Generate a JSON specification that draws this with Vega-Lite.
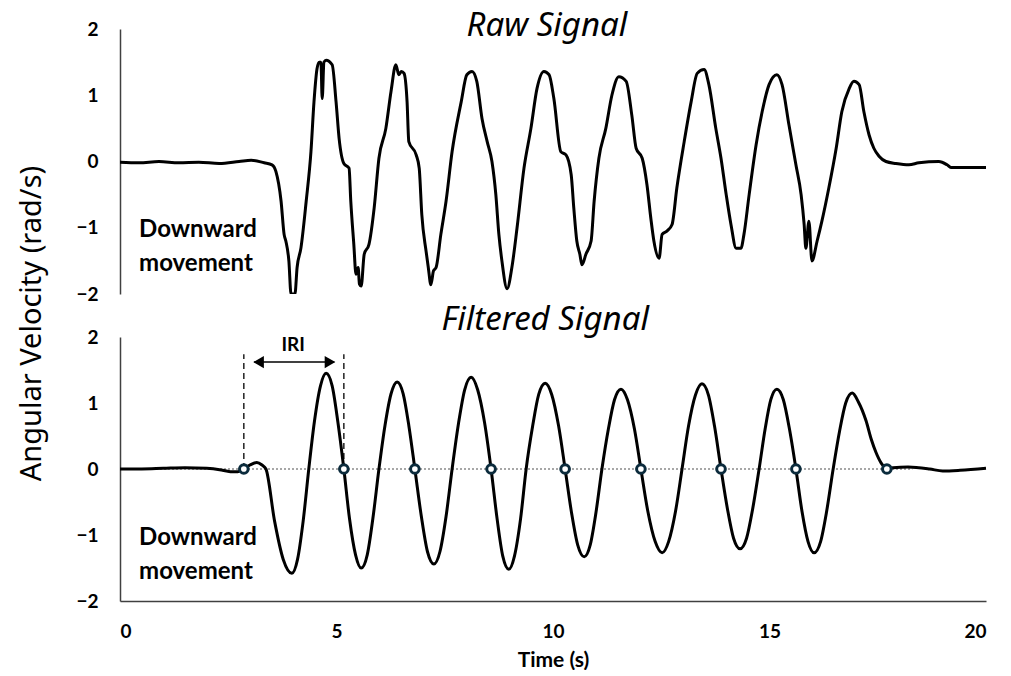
{
  "$schema": "https://vega.github.io/schema/vega-lite/v6.json",
  "padding": {"left": 17, "top": 10, "right": 3, "bottom": 0},
  "spacing": 43,
  "bounds": "flush",
  "config": {
    "view": {"stroke": null},
    "axis": {"grid": false, "ticks": false, "domainColor": "#404040", "domainWidth": 1.5, "labelFont": "Lato", "labelFontWeight": "bold", "labelFontSize": 19, "labelColor": "#000000", "labelPadding": 22, "titleColor": "#000000", "format": "d"}
  },
  "datasets": {
    "one": [{}],
    "raw": [
      {"t":0,"v":-0.01},{"t":0.44,"v":-0.02},{"t":0.9,"v":0.0},{"t":1.36,"v":-0.02},{"t":1.82,"v":-0.01},{"t":2.29,"v":-0.03},{"t":2.75,"v":0.0},{"t":3.03,"v":0.02},{"t":3.33,"v":-0.02},{"t":3.51,"v":-0.05},{"t":3.6,"v":-0.15},{"t":3.72,"v":-0.6},{"t":3.79,"v":-1.1},{"t":3.83,"v":-1.2},{"t":3.9,"v":-1.5},{"t":3.95,"v":-2.0},{"t":4.0,"v":-2.0},{"t":4.04,"v":-2.0},{"t":4.09,"v":-1.6},{"t":4.18,"v":-1.3},{"t":4.3,"v":-0.6},{"t":4.41,"v":0.15},{"t":4.48,"v":0.9},{"t":4.55,"v":1.4},{"t":4.6,"v":1.5},{"t":4.64,"v":1.5},{"t":4.67,"v":0.95},{"t":4.71,"v":1.5},{"t":4.76,"v":1.53},{"t":4.9,"v":1.46},{"t":4.99,"v":0.9},{"t":5.06,"v":0.35},{"t":5.17,"v":-0.03},{"t":5.29,"v":-0.1},{"t":5.33,"v":-0.6},{"t":5.4,"v":-1.25},{"t":5.45,"v":-1.7},{"t":5.5,"v":-1.6},{"t":5.53,"v":-1.85},{"t":5.57,"v":-1.88},{"t":5.64,"v":-1.4},{"t":5.75,"v":-1.25},{"t":5.87,"v":-0.7},{"t":5.98,"v":0.05},{"t":6.14,"v":0.5},{"t":6.26,"v":1.06},{"t":6.37,"v":1.46},{"t":6.44,"v":1.31},{"t":6.5,"v":1.36},{"t":6.56,"v":1.33},{"t":6.63,"v":0.9},{"t":6.67,"v":0.3},{"t":6.84,"v":0.1},{"t":6.91,"v":-0.1},{"t":6.97,"v":-0.8},{"t":7.07,"v":-1.36},{"t":7.12,"v":-1.6},{"t":7.18,"v":-1.86},{"t":7.24,"v":-1.65},{"t":7.3,"v":-1.6},{"t":7.41,"v":-1.1},{"t":7.53,"v":-0.6},{"t":7.67,"v":0.15},{"t":7.88,"v":0.9},{"t":8.01,"v":1.31},{"t":8.13,"v":1.36},{"t":8.24,"v":1.21},{"t":8.36,"v":0.65},{"t":8.48,"v":0.3},{"t":8.59,"v":0.0},{"t":8.68,"v":-0.5},{"t":8.75,"v":-1.1},{"t":8.82,"v":-1.5},{"t":8.94,"v":-1.92},{"t":9.05,"v":-1.6},{"t":9.17,"v":-1.0},{"t":9.33,"v":-0.1},{"t":9.49,"v":0.5},{"t":9.63,"v":1.1},{"t":9.79,"v":1.36},{"t":9.91,"v":1.31},{"t":10.02,"v":0.95},{"t":10.18,"v":0.15},{"t":10.3,"v":0.1},{"t":10.42,"v":-0.2},{"t":10.48,"v":-0.7},{"t":10.55,"v":-1.2},{"t":10.62,"v":-1.4},{"t":10.67,"v":-1.56},{"t":10.76,"v":-1.4},{"t":10.88,"v":-1.2},{"t":10.95,"v":-0.6},{"t":11.06,"v":0.05},{"t":11.22,"v":0.5},{"t":11.36,"v":1.0},{"t":11.52,"v":1.28},{"t":11.69,"v":1.21},{"t":11.82,"v":0.7},{"t":11.92,"v":0.2},{"t":12.06,"v":0.05},{"t":12.17,"v":-0.35},{"t":12.26,"v":-0.86},{"t":12.33,"v":-1.2},{"t":12.45,"v":-1.46},{"t":12.52,"v":-1.1},{"t":12.63,"v":-1.05},{"t":12.75,"v":-0.95},{"t":12.86,"v":-0.4},{"t":13.03,"v":0.3},{"t":13.19,"v":0.9},{"t":13.33,"v":1.33},{"t":13.49,"v":1.39},{"t":13.6,"v":1.16},{"t":13.76,"v":0.5},{"t":13.88,"v":0.05},{"t":14.0,"v":-0.5},{"t":14.11,"v":-0.95},{"t":14.23,"v":-1.31},{"t":14.34,"v":-1.31},{"t":14.41,"v":-1.1},{"t":14.53,"v":-0.5},{"t":14.69,"v":0.25},{"t":14.83,"v":0.75},{"t":14.99,"v":1.16},{"t":15.17,"v":1.31},{"t":15.29,"v":1.16},{"t":15.45,"v":0.55},{"t":15.61,"v":-0.05},{"t":15.73,"v":-0.5},{"t":15.8,"v":-0.95},{"t":15.84,"v":-1.31},{"t":15.91,"v":-0.9},{"t":15.98,"v":-1.5},{"t":16.1,"v":-1.2},{"t":16.21,"v":-0.9},{"t":16.37,"v":-0.4},{"t":16.54,"v":0.2},{"t":16.67,"v":0.75},{"t":16.84,"v":1.1},{"t":16.95,"v":1.21},{"t":17.07,"v":1.16},{"t":17.18,"v":0.75},{"t":17.3,"v":0.4},{"t":17.41,"v":0.2},{"t":17.53,"v":0.08},{"t":17.69,"v":0.0},{"t":17.92,"v":-0.03},{"t":18.22,"v":-0.05},{"t":18.45,"v":-0.02},{"t":18.91,"v":0.0},{"t":19.1,"v":-0.05},{"t":19.19,"v":-0.09},{"t":20.0,"v":-0.09}
    ],
    "filtered": [
      {"t":0,"v":0.0},{"t":0.5,"v":0.0},{"t":1.0,"v":0.01},{"t":1.5,"v":0.02},{"t":2.0,"v":0.01},{"t":2.3,"v":-0.01},{"t":2.55,"v":-0.04},{"t":2.72,"v":-0.04},{"t":2.86,"v":0.0},{"t":3.0,"v":0.06},{"t":3.16,"v":0.1},{"t":3.28,"v":0.06},{"t":3.37,"v":0.0},
      {"t":3.57,"v":-0.79},{"t":3.77,"v":-1.37},{"t":3.97,"v":-1.58},{"t":4.1,"v":-1.37},{"t":4.23,"v":-0.79},{"t":4.36,"v":0.0},
      {"t":4.49,"v":0.72},{"t":4.63,"v":1.26},{"t":4.76,"v":1.45},{"t":4.9,"v":1.26},{"t":5.03,"v":0.72},{"t":5.17,"v":0.0},
      {"t":5.3,"v":-0.75},{"t":5.44,"v":-1.3},{"t":5.57,"v":-1.5},{"t":5.71,"v":-1.3},{"t":5.84,"v":-0.75},{"t":5.98,"v":0.0},
      {"t":6.12,"v":0.66},{"t":6.26,"v":1.14},{"t":6.4,"v":1.32},{"t":6.54,"v":1.14},{"t":6.67,"v":0.66},{"t":6.81,"v":0.0},
      {"t":6.96,"v":-0.72},{"t":7.1,"v":-1.25},{"t":7.25,"v":-1.44},{"t":7.39,"v":-1.25},{"t":7.53,"v":-0.72},{"t":7.67,"v":0.0},
      {"t":7.82,"v":0.7},{"t":7.96,"v":1.2},{"t":8.11,"v":1.39},{"t":8.26,"v":1.2},{"t":8.42,"v":0.7},{"t":8.57,"v":0.0},
      {"t":8.71,"v":-0.76},{"t":8.84,"v":-1.32},{"t":8.98,"v":-1.52},{"t":9.11,"v":-1.32},{"t":9.25,"v":-0.76},{"t":9.38,"v":0.0},
      {"t":9.53,"v":0.65},{"t":9.67,"v":1.13},{"t":9.82,"v":1.3},{"t":9.97,"v":1.13},{"t":10.13,"v":0.65},{"t":10.28,"v":0.0},
      {"t":10.43,"v":-0.67},{"t":10.57,"v":-1.15},{"t":10.72,"v":-1.33},{"t":10.86,"v":-1.15},{"t":10.99,"v":-0.67},{"t":11.13,"v":0.0},
      {"t":11.28,"v":0.61},{"t":11.42,"v":1.05},{"t":11.57,"v":1.21},{"t":11.72,"v":1.05},{"t":11.88,"v":0.61},{"t":12.03,"v":0.0},
      {"t":12.19,"v":-0.64},{"t":12.36,"v":-1.1},{"t":12.52,"v":-1.27},{"t":12.67,"v":-1.1},{"t":12.83,"v":-0.64},{"t":12.98,"v":0.0},
      {"t":13.13,"v":0.65},{"t":13.29,"v":1.12},{"t":13.44,"v":1.29},{"t":13.59,"v":1.12},{"t":13.73,"v":0.65},{"t":13.88,"v":0.0},
      {"t":14.03,"v":-0.61},{"t":14.17,"v":-1.05},{"t":14.32,"v":-1.21},{"t":14.47,"v":-1.05},{"t":14.61,"v":-0.61},{"t":14.76,"v":0.0},
      {"t":14.9,"v":0.61},{"t":15.03,"v":1.05},{"t":15.17,"v":1.21},{"t":15.32,"v":1.05},{"t":15.46,"v":0.61},{"t":15.61,"v":0.0},
      {"t":15.75,"v":-0.64},{"t":15.89,"v":-1.1},{"t":16.03,"v":-1.27},{"t":16.18,"v":-1.1},{"t":16.32,"v":-0.64},{"t":16.47,"v":0.0},
      {"t":16.62,"v":0.58},{"t":16.76,"v":1.0},{"t":16.91,"v":1.15},{"t":17.05,"v":1.02},{"t":17.23,"v":0.73},{"t":17.35,"v":0.45},{"t":17.46,"v":0.25},{"t":17.58,"v":0.09},{"t":17.71,"v":0.01},{"t":17.85,"v":0.02},{"t":18.2,"v":0.03},{"t":18.7,"v":0.0},{"t":19.0,"v":-0.03},{"t":19.4,"v":-0.02},{"t":20.0,"v":0.01}
    ],
    "crossings": [
      {"t":2.86,"v":0},{"t":5.17,"v":0},{"t":6.81,"v":0},{"t":8.57,"v":0},{"t":10.28,"v":0},{"t":12.03,"v":0},{"t":13.88,"v":0},{"t":15.61,"v":0},{"t":17.71,"v":0}
    ]
  },
  "vconcat": [
    {
      "width": 866,
      "height": 265,
      "layer": [
        {
          "data": {"name": "raw"},
          "mark": {"type": "line", "color": "#000000", "strokeWidth": 3, "strokeJoin": "round", "interpolate": "monotone", "clip": true},
          "encoding": {
            "x": {"field": "t", "type": "quantitative", "scale": {"domain": [0, 20], "nice": false}, "axis": null},
            "y": {"field": "v", "type": "quantitative", "scale": {"domain": [-2, 2], "nice": false}, "axis": {"values": [-2, -1, 0, 1, 2], "title": "Angular Velocity (rad/s)", "titleFont": "Noto Sans", "titleFontWeight": "normal", "titleFontSize": 29, "titleAngle": -90, "titleAlign": "center", "titleBaseline": "alphabetic", "titleX": -80, "titleY": 294}}
          }
        },
        {
          "data": {"name": "one"},
          "mark": {"type": "text", "text": "Raw Signal", "font": "Noto Sans", "fontStyle": "italic", "fontSize": 33, "baseline": "alphabetic", "align": "center", "color": "#000000"},
          "encoding": {"x": {"datum": 9.86}, "y": {"datum": 1.89}}
        },
        {
          "data": {"name": "one"},
          "mark": {"type": "text", "text": ["Downward", "movement"], "font": "Lato", "fontWeight": "bold", "fontSize": 24, "lineHeight": 34, "align": "left", "baseline": "middle", "color": "#000000"},
          "encoding": {"x": {"datum": 0.44}, "y": {"datum": -1.03}}
        }
      ]
    },
    {
      "width": 866,
      "height": 264,
      "layer": [
        {
          "data": {"name": "one"},
          "mark": {"type": "rule", "color": "#8a8a8a", "strokeWidth": 1.3, "strokeDash": [2, 2]},
          "encoding": {"x": {"datum": 0}, "x2": {"datum": 18.3}, "y": {"datum": 0}}
        },
        {
          "data": {"name": "one"},
          "mark": {"type": "rule", "color": "#000000", "strokeWidth": 1.3, "strokeDash": [6, 4]},
          "encoding": {"x": {"datum": 2.86}, "y": {"datum": 0}, "y2": {"datum": 1.74}}
        },
        {
          "data": {"name": "one"},
          "mark": {"type": "rule", "color": "#000000", "strokeWidth": 1.3, "strokeDash": [6, 4]},
          "encoding": {"x": {"datum": 5.17}, "y": {"datum": 0}, "y2": {"datum": 1.74}}
        },
        {
          "data": {"name": "one"},
          "mark": {"type": "rule", "color": "#000000", "strokeWidth": 1.5},
          "encoding": {"x": {"datum": 3.1}, "x2": {"datum": 4.95}, "y": {"datum": 1.62}}
        },
        {
          "data": {"name": "one"},
          "mark": {"type": "point", "shape": "triangle-left", "filled": true, "color": "#000000", "size": 150, "opacity": 1},
          "encoding": {"x": {"datum": 3.2}, "y": {"datum": 1.62}}
        },
        {
          "data": {"name": "one"},
          "mark": {"type": "point", "shape": "triangle-right", "filled": true, "color": "#000000", "size": 150, "opacity": 1},
          "encoding": {"x": {"datum": 4.85}, "y": {"datum": 1.62}}
        },
        {
          "data": {"name": "one"},
          "mark": {"type": "text", "text": "IRI", "font": "Lato", "fontWeight": "bold", "fontSize": 19, "baseline": "middle", "color": "#000000"},
          "encoding": {"x": {"datum": 4.0}, "y": {"datum": 1.88}}
        },
        {
          "data": {"name": "one"},
          "mark": {"type": "text", "text": "Filtered Signal", "font": "Noto Sans", "fontStyle": "italic", "fontSize": 33, "baseline": "alphabetic", "align": "center", "color": "#000000"},
          "encoding": {"x": {"datum": 9.82}, "y": {"datum": 2.1}}
        },
        {
          "data": {"name": "filtered"},
          "mark": {"type": "line", "color": "#000000", "strokeWidth": 3, "interpolate": "monotone"},
          "encoding": {
            "x": {"field": "t", "type": "quantitative", "scale": {"domain": [0, 20], "nice": false}, "axis": {"values": [0, 5, 10, 15, 20], "title": "Time (s)", "titleFont": "Lato", "titleFontWeight": "bold", "titleFontSize": 21, "titlePadding": 8, "labelPadding": 21}},
            "y": {"field": "v", "type": "quantitative", "scale": {"domain": [-2, 2], "nice": false}, "axis": {"values": [-2, -1, 0, 1, 2], "title": null}}
          }
        },
        {
          "data": {"name": "crossings"},
          "mark": {"type": "point", "shape": "circle", "filled": true, "fill": "#ffffff", "stroke": "#0b2b3c", "strokeWidth": 3, "size": 75, "opacity": 1},
          "encoding": {
            "x": {"field": "t", "type": "quantitative"},
            "y": {"field": "v", "type": "quantitative"}
          }
        },
        {
          "data": {"name": "one"},
          "mark": {"type": "text", "text": ["Downward", "movement"], "font": "Lato", "fontWeight": "bold", "fontSize": 24, "lineHeight": 34, "align": "left", "baseline": "middle", "color": "#000000"},
          "encoding": {"x": {"datum": 0.44}, "y": {"datum": -1.05}}
        }
      ]
    }
  ]
}
